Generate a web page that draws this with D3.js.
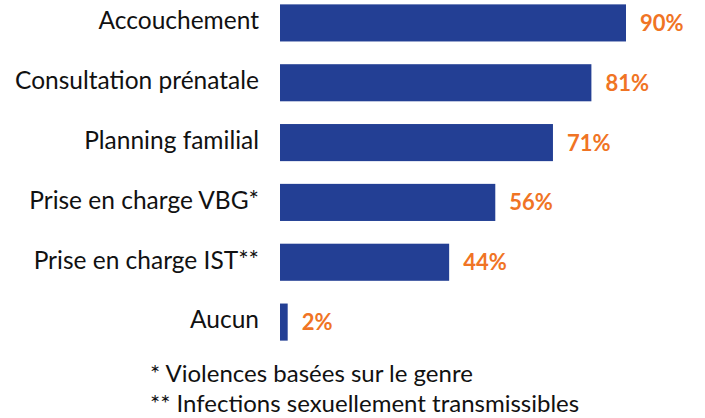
<!DOCTYPE html>
<html>
<head>
<meta charset="utf-8">
<script src="https://cdn.jsdelivr.net/npm/d3@7"></script>
<style>
  html, body { margin: 0; padding: 0; background: #fff; }
  svg { display: block; font-family: Lato, "Open Sans", sans-serif; }
</style>
</head>
<body>
<div id="chart"></div>
<script>
const categories = ['Accouchement', 'Consultation prénatale', 'Planning familial', 'Prise en charge VBG*', 'Prise en charge IST**', 'Aucun'];
const values = [90, 81, 71, 56, 44, 2];
const footnotes = ['* Violences basées sur le genre', '** Infections sexuellement transmissibles'];

const width = 705, height = 418;
const svg = d3.select('#chart').append('svg')
  .attr('width', width)
  .attr('height', height);

const x = d3.scaleLinear().domain([0, 90]).range([280, 626]);
const y = d3.scaleBand().domain(categories).range([-7, 352]).paddingInner(0.38).paddingOuter(0.19);

const barW = v => Math.max(4, x(v) - x(0));

svg.selectAll('rect.bar')
  .data(categories)
  .join('rect')
  .attr('class', 'bar')
  .attr('x', x(0))
  .attr('y', d => y(d))
  .attr('width', (d, i) => barW(values[i]))
  .attr('height', y.bandwidth())
  .attr('fill', '#233f94');

// category labels
svg.selectAll('text.cat')
  .data(categories)
  .join('text')
  .attr('class', 'cat')
  .attr('x', 259)
  .attr('y', d => y(d) + y.bandwidth() / 2)
  .attr('dy', '0.26em')
  .attr('text-anchor', 'end')
  .attr('font-size', 24.5)
  .attr('fill', '#111')
  .text(d => d);

// value labels
svg.selectAll('text.val')
  .data(categories)
  .join('text')
  .attr('class', 'val')
  .attr('x', (d, i) => x(0) + barW(values[i]) + 14)
  .attr('y', d => y(d) + y.bandwidth() / 2)
  .attr('dy', '0.36em')
  .attr('font-size', 22)
  .attr('font-weight', 700)
  .attr('fill', '#f07424')
  .text((d, i) => values[i] + '%');

svg.selectAll('text.note')
  .data(footnotes)
  .join('text')
  .attr('class', 'note')
  .attr('x', 150)
  .attr('y', (d, i) => 382 + i * 30)
  .attr('font-size', 24)
  .attr('fill', '#111')
  .text(d => d);
</script>
</body>
</html>
